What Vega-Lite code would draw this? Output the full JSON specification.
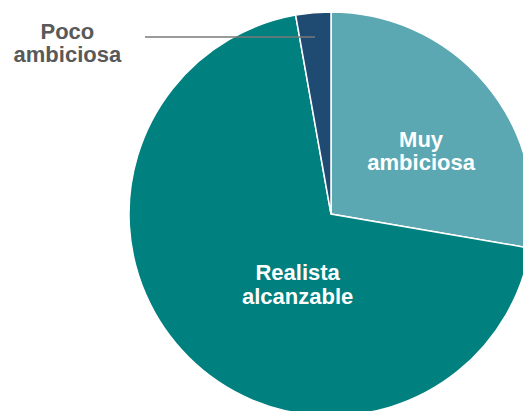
{
  "$schema": "https://vega.github.io/schema/vega-lite/v6.json",
  "width": 662,
  "height": 428,
  "autosize": "none",
  "padding": 0,
  "background": "white",
  "view": {"stroke": null},
  "data": {
    "values": [
      {"categoria": "Muy ambiciosa", "porcentaje": 27.7, "orden": 1},
      {"categoria": "Realista alcanzable", "porcentaje": 69.5, "orden": 2},
      {"categoria": "Poco ambiciosa", "porcentaje": 2.8, "orden": 3}
    ]
  },
  "layer": [
    {
      "mark": {"type": "arc", "outerRadius": 202, "stroke": "white", "strokeWidth": 1.5},
      "encoding": {
        "theta": {"field": "porcentaje", "type": "quantitative", "stack": true, "scale": {"domain": [0, 100]}},
        "order": {"field": "orden", "type": "quantitative"},
        "color": {
          "field": "categoria",
          "type": "nominal",
          "scale": {
            "domain": ["Muy ambiciosa", "Realista alcanzable", "Poco ambiciosa"],
            "range": ["#5ba8b3", "#00807f", "#1f4a72"]
          },
          "legend": null
        }
      }
    },
    {
      "transform": [{"filter": "datum.categoria == 'Poco ambiciosa'"}],
      "mark": {"type": "rule", "stroke": "#787878", "strokeWidth": 1.5},
      "encoding": {
        "x": {"value": 145},
        "x2": {"value": 315},
        "y": {"value": 37}
      }
    },
    {
      "mark": {"type": "text", "radius": 110, "dx": 6, "dy": -3, "font": "Liberation Sans", "fontWeight": "bold", "fontSize": 22, "lineHeight": 23, "lineBreak": " ", "fill": "white", "align": "center", "baseline": "middle"},
      "encoding": {
        "theta": {"field": "porcentaje", "type": "quantitative", "stack": true, "scale": {"domain": [0, 100]}},
        "order": {"field": "orden", "type": "quantitative"},
        "text": {"condition": {"test": "datum.categoria == 'Muy ambiciosa'", "field": "categoria"}, "value": ""}
      }
    },
    {
      "mark": {"type": "text", "radius": 80, "dx": 23, "dy": 2, "font": "Liberation Sans", "fontWeight": "bold", "fontSize": 22, "lineHeight": 24, "lineBreak": " ", "fill": "white", "align": "center", "baseline": "middle"},
      "encoding": {
        "theta": {"field": "porcentaje", "type": "quantitative", "stack": true, "scale": {"domain": [0, 100]}},
        "order": {"field": "orden", "type": "quantitative"},
        "text": {"condition": {"test": "datum.categoria == 'Realista alcanzable'", "field": "categoria"}, "value": ""}
      }
    },
    {
      "mark": {"type": "text", "radius": 178, "dx": -248, "dy": -5, "font": "Liberation Sans", "fontWeight": "bold", "fontSize": 22, "lineHeight": 23, "lineBreak": " ", "fill": "#595959", "align": "center", "baseline": "middle"},
      "encoding": {
        "theta": {"field": "porcentaje", "type": "quantitative", "stack": true, "scale": {"domain": [0, 100]}},
        "order": {"field": "orden", "type": "quantitative"},
        "text": {"condition": {"test": "datum.categoria == 'Poco ambiciosa'", "field": "categoria"}, "value": ""}
      }
    }
  ]
}
